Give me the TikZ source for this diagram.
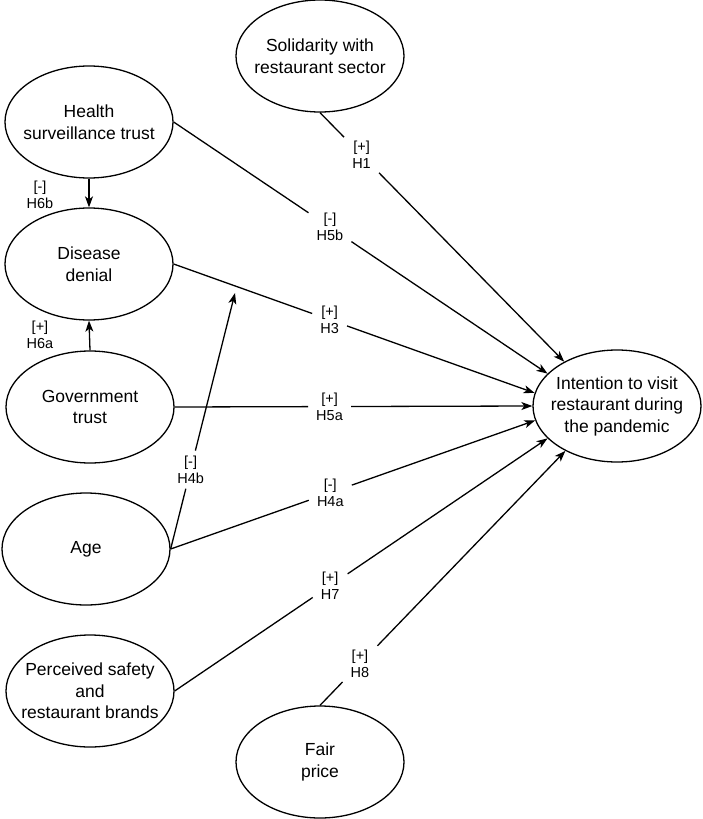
\documentclass[tikz,border=0pt]{standalone}
\usepackage{fontspec}
\setmainfont{Liberation Sans}
\usetikzlibrary{arrows.meta,shapes.geometric,calc}
\tikzset{
  construct/.style={draw, ellipse, line width=1.3pt, minimum width=168pt, minimum height=112pt, inner sep=0pt},
  ctext/.style={font=\fontsize{17.5}{21.5}\selectfont, align=center},
  hlab/.style={font=\fontsize{14.5}{17}\selectfont, align=center, inner xsep=8pt, inner ysep=5pt},
  path/.style={line width=1.3pt},
  arr/.style={line width=1.3pt, -{Stealth[length=11pt,width=8pt,inset=3pt]}}
}
\begin{document}
\begin{tikzpicture}[x=1pt,y=-1pt]
\useasboundingbox (0,0) rectangle (703,819);
\node[construct, label={[ctext]center:Solidarity with\\restaurant sector}] (sol) at (320,56) {};
\node[construct, label={[ctext]center:Health\\surveillance trust}] (hst) at (89,122) {};
\node[construct, label={[ctext]center:Disease\\denial}] (dd) at (89,264) {};
\node[construct, label={[ctext]center:Government\\trust}] (gov) at (90,407) {};
\node[construct, label={[ctext]center:Age}] (age) at (86,549) {};
\node[construct, label={[ctext]center:Perceived safety\\and\\restaurant brands}] (perc) at (90,691) {};
\node[construct, label={[ctext]center:Fair\\price}] (fair) at (320,762) {};
\node[construct, label={[ctext]center:Intention to visit\\restaurant during\\the pandemic}] (int) at (617,406) {};

% labels on paths
\path (sol.south) -- node[hlab,pos=0.17] (h1) {[+]\\H1} (int.140);
\path (hst.east) -- node[hlab,pos=0.418] (h5b) {[-]\\H5b} (int.155);
\path (dd.east) -- node[hlab,pos=0.432] (h3) {[+]\\H3} (int.171);
\path (gov.east) -- node[hlab,pos=0.433] (h5a) {[+]\\H5a} (int.180);
\path (age.east) -- node[hlab,pos=0.438] (h4a) {[-]\\H4a} (int.190);
\path (perc.east) -- node[hlab,pos=0.417] (h7) {[+]\\H7} (int.205);
\path (fair.north) -- node[hlab,pos=0.163] (h8) {[+]\\H8} (int.221);
\coordinate (m) at (235,293);
\path (age.east) -- node[hlab,pos=0.31] (h4b) {[-]\\H4b} (m);
\node[hlab] (h6b) at (40,195) {[-]\\H6b};
\node[hlab] (h6a) at (40,335) {[+]\\H6a};

% connectors
\draw[path] (sol.south) -- (h1);  \draw[arr] (h1) -- (int.140);
\draw[path] (hst.east) -- (h5b);  \draw[arr] (h5b) -- (int.155);
\draw[path] (dd.east) -- (h3);    \draw[arr] (h3) -- (int.171);
\draw[path] (gov.east) -- (h5a);  \draw[arr] (h5a) -- (int.180);
\draw[path] (age.east) -- (h4a);  \draw[arr] (h4a) -- (int.190);
\draw[path] (perc.east) -- (h7);  \draw[arr] (h7) -- (int.205);
\draw[path] (fair.north) -- (h8); \draw[arr] (h8) -- (int.221);
\draw[path] (age.east) -- (h4b);  \draw[arr] (h4b) -- (m);
\draw[arr] (hst.south) -- (dd.north);
\draw[arr] (gov.north) -- (dd.south);
\end{tikzpicture}
\end{document}
